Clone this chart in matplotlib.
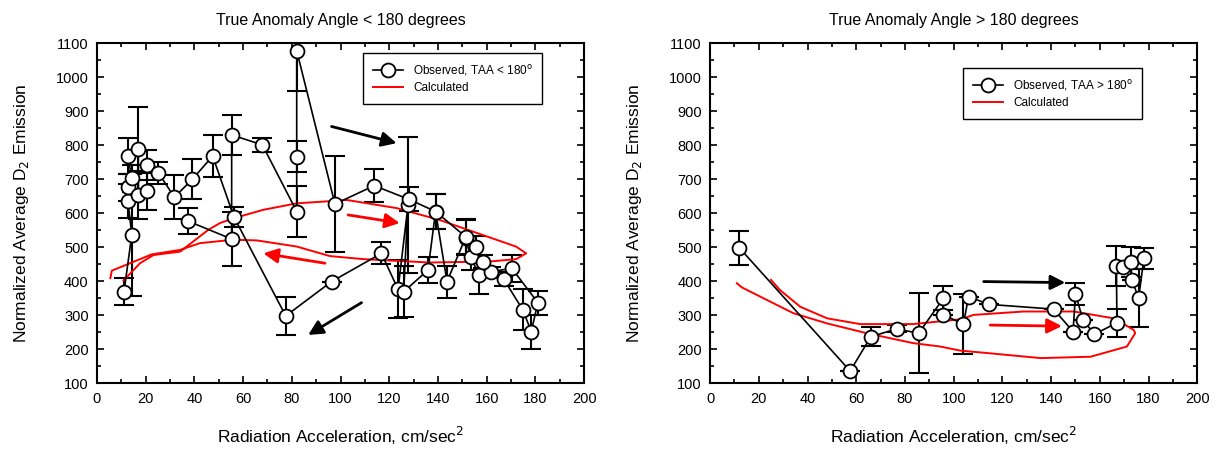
import matplotlib
matplotlib.use("Agg")
import matplotlib.pyplot as plt
from matplotlib.ticker import MultipleLocator

plt.rcParams['font.family'] = ['Liberation Sans', 'DejaVu Sans']

# ---------------- data: left panel (TAA < 180) ----------------
left_obs_x = [11.1, 14.3, 12.7, 12.7, 14.3, 12.7, 17.0, 17.0, 20.5, 20.5, 25.2, 31.8,
              39.2, 47.5, 56.3, 77.5, 96.3, 116.8, 123.6, 127.7, 125.9, 135.9, 139.0,
              143.7, 151.3, 153.4, 156.8, 167.0, 174.8, 178.3, 181.0, 170.3, 161.9,
              158.4, 155.4, 151.3, 139.0, 128.0, 113.8, 97.7, 82.0, 82.0, 82.0, 67.9,
              55.3, 55.3, 37.3]
left_obs_y = [369, 536, 636, 676, 703, 768, 789, 653, 664, 742, 719, 647,
              700, 768, 588, 298, 399, 482, 376, 624, 369, 433, 605,
              399, 528, 472, 419, 406, 316, 252, 337, 438, 428,
              458, 502, 531, 605, 641, 681, 627, 1078, 766, 605, 801,
              830, 524, 577]
left_obs_err = [40, 180, 50, 40, 40, 52, 122, 70, 55, 44, 33, 65,
                58, 63, 30, 55, 0, 32, 85, 200, 75, 39, 52,
                47, 51, 40, 57, 20, 60, 50, 35, 40, 15,
                20, 30, 51, 52, 35, 49, 142, 120, 45, 75, 20,
                60, 80, 38]
left_calc_x = [10.9, 17.7, 23.2, 34.1, 45.7, 50.5, 56.0, 68.3, 82.0, 97.0, 102.5, 123.0,
               140.7, 154.3, 172.0, 176.2, 172.1, 161.2, 136.6, 109.3, 95.6, 82.0,
               65.6, 56.0, 42.3, 34.1, 22.5, 6.1, 5.5]
left_calc_y = [402, 453, 477, 487, 551, 571, 585, 610, 629, 636, 639, 615,
               580, 546, 502, 482, 465, 458, 455, 465, 474, 502,
               520, 522, 512, 492, 479, 431, 409]

# ---------------- data: right panel (TAA > 180) ----------------
right_obs_x = [11.9, 57.5, 66.0, 76.6, 85.6, 95.8, 95.8, 104.0, 106.1, 114.3, 141.0,
               149.0, 150.0, 153.1, 157.8, 167.0, 166.8, 169.6, 172.6, 173.2, 175.9, 178.1]
right_obs_y = [499, 136, 237, 260, 247, 350, 301, 274, 355, 332, 318,
               252, 362, 286, 244, 278, 445, 443, 456, 404, 350, 468]
right_obs_err = [50, 0, 27, 10, 117, 36, 0, 87, 0, 0, 0,
                 0, 32, 0, 0, 41, 58, 0, 45, 0, 85, 31]
right_calc_x = [11.0, 13.0, 23.3, 34.2, 48.0, 64.4, 83.4, 94.5, 102.7, 115.0, 135.7,
                156.2, 171.1, 174.5, 173.9, 165.6, 149.3, 128.7, 108.2, 102.7, 83.4,
                61.6, 48.0, 37.0, 28.7, 25.0]
right_calc_y = [394, 382, 345, 306, 276, 247, 218, 208, 196, 188, 174,
                178, 208, 247, 257, 291, 311, 311, 301, 288, 274,
                274, 291, 325, 374, 404]

titles = ["True Anomaly Angle < 180 degrees", "True Anomaly Angle > 180 degrees"]
obs_labels = [r"Observed, TAA < 180$^{\mathrm{o}}$", r"Observed, TAA > 180$^{\mathrm{o}}$"]
calc_label = "Calculated"

# annotation arrows: (tail_x, tail_y, head_x, head_y, colour)
left_arrows = [(96.3, 855, 123, 806, 'black'), (108.6, 337, 86.7, 242, 'black'),
               (103.1, 595, 124.3, 571, 'red'), (93.6, 453, 68.3, 482, 'red')]
right_arrows = [(112.3, 399, 145.8, 396, 'black'), (115, 271, 144.4, 268, 'red')]

fig = plt.figure(figsize=(12.18, 4.59), dpi=100)
axL = fig.add_axes([0.0796, 0.165, 0.400, 0.741])
axR = fig.add_axes([0.583, 0.165, 0.400, 0.741])

panels = [
    (axL, left_obs_x, left_obs_y, left_obs_err, left_calc_x, left_calc_y, left_arrows,
     (363.3, 53.3, 556.7, 110.7)),
    (axR, right_obs_x, right_obs_y, right_obs_err, right_calc_x, right_calc_y, right_arrows,
     (963.3, 68.3, 1160.0, 127.3)),
]

for i, (ax, ox, oy, oe, cx, cy, arrows, lbox) in enumerate(panels):
    ax.errorbar(ox, oy, yerr=oe, fmt='none', ecolor='black', elinewidth=1.5,
                capsize=7, capthick=1.5, zorder=2)
    obs_line, = ax.plot(ox, oy, '-', color='black', lw=1.2, marker='o', ms=10,
                        mfc='white', mec='black', mew=1.3, zorder=4,
                        label=obs_labels[i])
    calc_line, = ax.plot(cx, cy, '-', color='red', lw=1.4, zorder=3, label=calc_label,
                         solid_joinstyle='round')
    for (tx, ty, hx, hy, c) in arrows:
        ax.annotate('', xy=(hx, hy), xytext=(tx, ty),
                    arrowprops=dict(arrowstyle='-|>', color=c, lw=2.0,
                                    mutation_scale=22, shrinkA=0, shrinkB=0),
                    zorder=5)
    ax.set_xlim(0, 200)
    ax.set_ylim(100, 1100)
    ax.xaxis.set_major_locator(MultipleLocator(20))
    ax.xaxis.set_minor_locator(MultipleLocator(10))
    ax.yaxis.set_major_locator(MultipleLocator(100))
    ax.yaxis.set_minor_locator(MultipleLocator(50))
    ax.tick_params(which='both', top=True, right=True, direction='in', labelsize=10.5,
                   width=1.2, pad=6)
    ax.tick_params(which='major', length=5)
    ax.tick_params(which='minor', length=3)
    for s in ax.spines.values():
        s.set_linewidth(1.5)
    ax.set_title(titles[i], fontsize=11.5, pad=13)
    ax.set_xlabel("Radiation Acceleration, cm/sec$^2$", fontsize=12.5, labelpad=14)
    ax.set_ylabel("Normalized Average D$_2$ Emission", fontsize=12.5, labelpad=18)

    # legend placed at the reference's box (pixel coords -> figure coords)
    x0, y0, x1, y1 = lbox
    W, H = 1218.0, 459.0
    leg = ax.legend(handles=[obs_line, calc_line], loc='upper left',
                    bbox_to_anchor=(x0 / W, 1 - y0 / H), bbox_transform=fig.transFigure,
                    fontsize=8.5, frameon=True, fancybox=False, framealpha=1,
                    edgecolor='black', borderpad=0.8, handlelength=2.6,
                    labelspacing=0.4, borderaxespad=0)
    leg.get_frame().set_linewidth(1.0)

fig.savefig("out.png", dpi=100)
